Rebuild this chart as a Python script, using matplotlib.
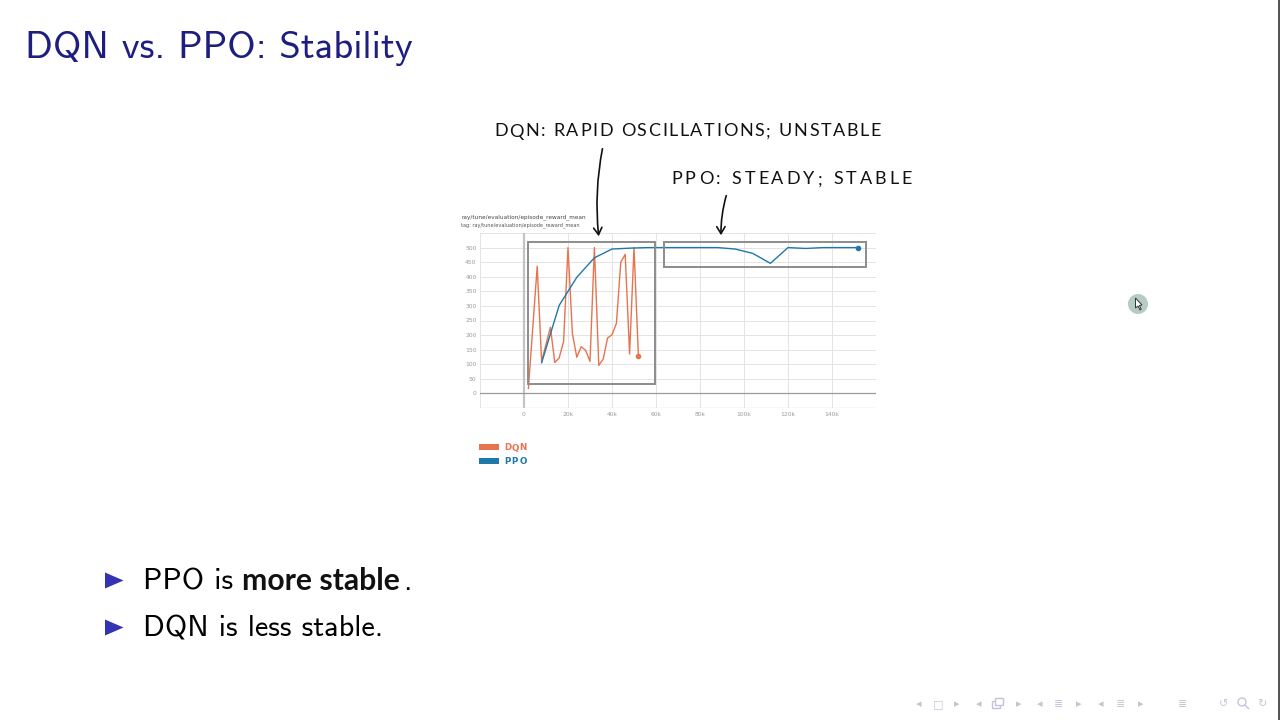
import matplotlib
matplotlib.use("Agg")
import matplotlib.pyplot as plt
from matplotlib.patches import Rectangle, Polygon, FancyArrowPatch, Ellipse
from matplotlib.lines import Line2D

# ---------------- data ----------------
dqn_steps_k = [2, 6, 8, 12, 14, 16, 18, 20, 22, 24, 26, 28, 30, 32, 34, 36, 38, 40,
               42, 44, 46, 48, 50, 52]
dqn_reward = [17, 436, 110, 227, 106, 122, 178, 500, 205, 124, 160, 148, 110, 500,
              96, 118, 190, 201, 240, 450, 477, 135, 500, 128]

ppo_steps_k = [8, 16, 24, 32, 40, 48, 56, 64, 72, 80, 88, 96, 104, 112, 120, 128,
               136, 144, 152]
ppo_reward = [105, 302, 398, 465, 495, 498, 500, 500, 500, 500, 500, 495, 480, 446,
              500, 497, 500, 500, 500]

x_ticks_k = [0, 20, 40, 60, 80, 100, 120, 140]
x_tick_labels = ["0", "20k", "40k", "60k", "80k", "100k", "120k", "140k"]
y_ticks = [0, 50, 100, 150, 200, 250, 300, 350, 400, 450, 500]

series_names = ["DQN", "PPO"]
slide_title = "DQN vs. PPO: Stability"
note_dqn = "DQN: RAPID OSCILLATIONS; UNSTABLE"
note_ppo = "PPO: STEADY; STABLE"
chart_title = "ray/tune/evaluation/episode_reward_mean"
chart_tag = "tag: ray/tune/evaluation/episode_reward_mean"

DQN_C = "#e8734f"
PPO_C = "#1f78a8"
TITLE_C = "#1e1e80"
BULLET_C = "#3333b3"
NAV_C = "#c4c4d8"

W, H = 1280, 720
fig = plt.figure(figsize=(12.8, 7.2), dpi=100)
fig.patch.set_facecolor("white")
renderer = fig.canvas.get_renderer()


def fx(x):
    return x / W


def fy(y):
    return 1 - y / H


def text_width(s, **kw):
    t = fig.text(0, 0, s, **kw)
    w = t.get_window_extent(renderer).width
    t.remove()
    return w


def fit_text(s, x0, x1, ybase, base_size, **kw):
    w = text_width(s, fontsize=base_size, **kw)
    size = base_size * (x1 - x0) / w
    fig.text(fx(x0), fy(ybase), s, fontsize=size, va="baseline", ha="left", **kw)
    return size


def spaced_text(s, x0, x1, ybase, size, **kw):
    ref = text_width("|", fontsize=size, **kw)
    pos = [text_width(s[:i] + "|", fontsize=size, **kw) - ref if i > 0 else 0
           for i in range(len(s))]
    total = text_width(s, fontsize=size, **kw)
    extra = ((x1 - x0) - total) / (len(s) - 1)
    for i, ch in enumerate(s):
        if ch == " ":
            continue
        fig.text(fx(x0 + pos[i] + i * extra), fy(ybase), ch, fontsize=size,
                 va="baseline", ha="left", **kw)


# ---------------- slide title ----------------
fit_text(slide_title, 25, 413, 58, 27, family="cmss10", color=TITLE_C)

# ---------------- chart ----------------
ax = fig.add_axes([480 / W, 1 - 408 / H, 396 / W, (408 - 233) / H])
ax.set_xlim(-20000, 160000)
ax.set_ylim(-50, 550)
for s in ax.spines.values():
    s.set_visible(False)
for v in range(-20000, 160001, 20000):
    ax.axvline(v, color="#e4e4e4", lw=0.7, zorder=0)
for v in range(-50, 551, 50):
    ax.axhline(v, color="#e4e4e4", lw=0.7, zorder=0)
ax.axvline(0, color="#c4c4c4", lw=1.6, zorder=1)
ax.axhline(0, color="#9a9a9a", lw=0.9, zorder=1)
ax.axhline(-50, color="#cfcfcf", lw=0.9, zorder=1)

ax.plot([k * 1000 for k in dqn_steps_k], dqn_reward, color=DQN_C, lw=1.0, zorder=3)
ax.plot([k * 1000 for k in ppo_steps_k], ppo_reward, color=PPO_C, lw=1.0, zorder=4)
ax.plot(dqn_steps_k[-1] * 1000, dqn_reward[-1], "o", color=DQN_C, ms=3, zorder=5)
ax.plot(ppo_steps_k[-1] * 1000, ppo_reward[-1], "o", color=PPO_C, ms=3, zorder=5)

ax.set_xticks([k * 1000 for k in x_ticks_k])
ax.set_xticklabels(x_tick_labels)
ax.set_yticks(y_ticks)
ax.set_yticklabels([str(v) for v in y_ticks])
ax.tick_params(axis="both", length=0, labelsize=4.3, labelcolor="#9a9a9a")
ax.tick_params(axis="y", pad=2.5)
ax.tick_params(axis="x", pad=3)

# highlight boxes
ax.add_patch(Rectangle((1700, 31), 57800, 488, fill=False, ec="#8c8c8c", lw=1.4,
                       zorder=6, clip_on=False))
ax.add_patch(Rectangle((63700, 435), 91700, 84, fill=False, ec="#8c8c8c", lw=1.4,
                       zorder=6, clip_on=False))

fit_text(chart_title, 461, 585, 218, 4.5, color="#444444", family="DejaVu Sans")
fit_text(chart_tag, 461, 578, 226.5, 4.0, color="#555555", family="DejaVu Sans")

# legend
for i, (name, col) in enumerate(zip(series_names, [DQN_C, PPO_C])):
    yc = 447.3 + i * 13.5
    fig.patches.append(Rectangle((fx(479), fy(yc + 3)), 20 / W, 6 / H,
                                 transform=fig.transFigure, color=col, lw=0))
    spaced_text(name, 504, 527, yc + 3.2, 6.3, color=col, family="DejaVu Sans",
                fontweight="bold")

# ---------------- hand-written notes ----------------
hand = dict(family="Lato", fontweight="normal", color="#111111")
spaced_text(note_dqn, 494, 881, 136.5, 13, **hand)
spaced_text(note_ppo, 671, 912, 184.5, 13, **hand)

for (xa, ya), (xb, yb) in [((603, 146), (599, 239)), ((727, 193), (721, 238))]:
    fig.patches.append(FancyArrowPatch((fx(xa), fy(ya)), (fx(xb), fy(yb)),
                                       transform=fig.transFigure,
                                       arrowstyle="->,head_length=5,head_width=3",
                                       connectionstyle="arc3,rad=0.08",
                                       color="#111111", lw=1.2, mutation_scale=1))

# ---------------- bullets ----------------
for yb in (590, 637):
    fig.patches.append(Polygon([(fx(105), fy(yb - 17.5)), (fx(105), fy(yb - 1.5)),
                                (fx(123.5), fy(yb - 9.5))],
                               closed=True, transform=fig.transFigure,
                               color=BULLET_C, lw=0))

size = fit_text("DQN is less stable.", 143, 383, 637, 19, family="cmss10", color="black")
fig.text(fx(143), fy(590), "PPO is", fontsize=size, family="cmss10", va="baseline")
bw = text_width("more stable", fontsize=size, family="Lato", fontweight="bold")
bsize = size * 158 / bw
fig.text(fx(242), fy(590), "more stable", fontsize=bsize,
         family="Lato", fontweight="bold", va="baseline", color="#111111")
fig.text(fx(403), fy(590), ".", fontsize=size, family="cmss10", va="baseline")

# ---------------- navigation symbols ----------------
nav = [(919, "◂"), (938, "□"), (957, "▸"), (979, "◂"), (1019, "▸"),
       (1040, "◂"), (1059, "≣"), (1079, "▸"), (1101, "◂"), (1121, "≣"), (1141, "▸"),
       (1183, "≣"), (1224, "↺"), (1262, "↻")]
for x, g in nav:
    fig.text(fx(x), fy(704), g, fontsize=8, color=NAV_C, ha="center", va="center",
             family="DejaVu Sans")
# stacked-frames icon (no font has it)
for dx, dy in [(0, 0), (3, -3)]:
    fig.patches.append(Rectangle((fx(992 + dx), fy(708 + dy)), 8 / W, 7 / H,
                                 transform=fig.transFigure, fill=True, fc="white",
                                 ec=NAV_C, lw=1.0))
# magnifier icon
fig.patches.append(Ellipse((fx(1242), fy(702)), 8 / W, 8 / H, transform=fig.transFigure,
                           fill=False, ec=NAV_C, lw=1.0))
fig.lines.append(Line2D([fx(1245), fx(1248.5)], [fy(705), fy(708.5)],
                        transform=fig.transFigure, color=NAV_C, lw=1.0))

# cursor highlight
fig.patches.append(Ellipse((fx(1138), fy(304)), 20 / W, 20 / H, transform=fig.transFigure,
                           color="#a8c4bb", alpha=0.85, lw=0))
fig.patches.append(Polygon([(fx(1135.5), fy(298)), (fx(1135.5), fy(308)),
                            (fx(1138), fy(306)), (fx(1140), fy(310)),
                            (fx(1141.2), fy(309.3)), (fx(1139.4), fy(305.5)),
                            (fx(1142), fy(305))], closed=True,
                           transform=fig.transFigure, fc="white", ec="#333333",
                           lw=0.7))

# right edge border
fig.patches.append(Rectangle((fx(1277.5), 0), 2.5 / W, 1, transform=fig.transFigure,
                             color="#555555", lw=0))

fig.savefig("out.png", dpi=100)
